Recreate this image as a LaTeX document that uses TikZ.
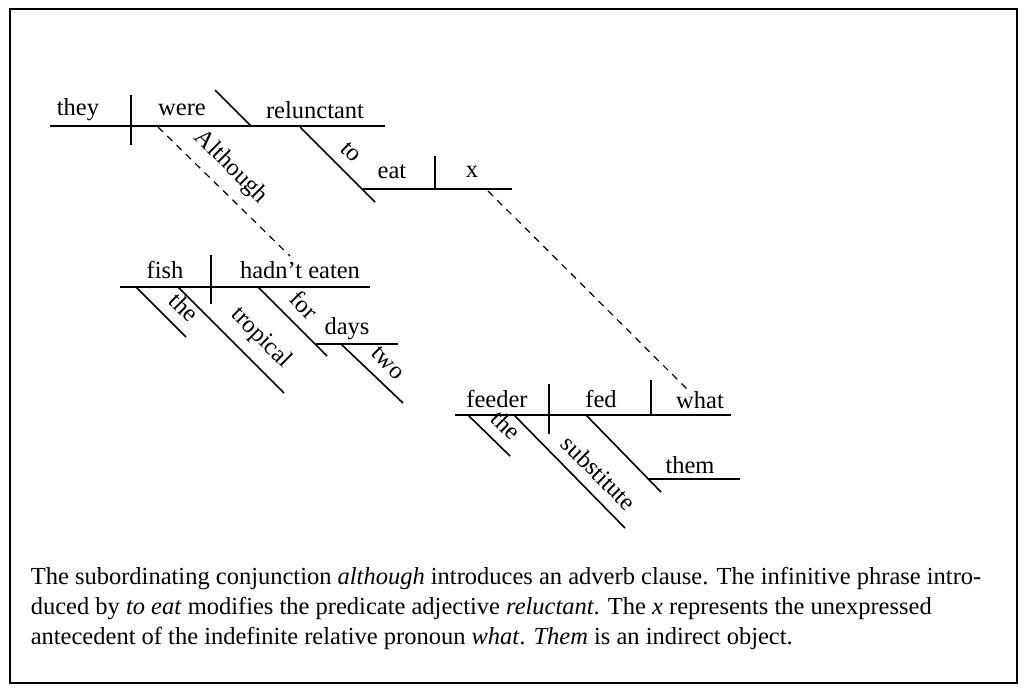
\documentclass[tikz,border=0pt]{standalone}
\usepackage{fontspec}
\setmainfont{Liberation Serif}
\begin{document}
\begin{tikzpicture}[x=1pt,y=-1pt,line width=1.6pt,
  w/.style={font=\fontsize{24.5}{26}\selectfont,inner sep=0pt},
  sl/.style={w,rotate=-45,anchor=south,inner sep=2pt},
  captxt/.style={font=\fontsize{24.5}{26}\selectfont,inner sep=0pt,anchor=base west},
  dl/.style={dashed,line width=1.2pt,dash pattern=on 7pt off 6pt}]
\useasboundingbox (0,0) rectangle (1027,694);
\draw[line width=1.3pt] (10,9) rectangle (1017,683);
% main clause
\draw (50,126) -- (385,126);
\draw (131,95) -- (131,145);
\draw (215,90) -- (251,126);
\node[w] (they) at (78,110) {they};
\node[w] (were) at (182,110) {were};
\node[w] (rel) at (315,110) {relunctant};
\coordinate (toA) at (300,127); \coordinate (toB) at (375,202);
\draw (toA) -- (toB);
\node[sl] at (344,159) {to};
\draw (363,189) -- (512,189);
\draw (435,156) -- (435,189);
\node[w] (eat) at (392,172) {eat};
\node[w] (x) at (472,172) {x};
% although
\coordinate (alA) at (158,127); \coordinate (alB) at (290,256);
\draw[dl] (alA) -- (alB);
\node[sl] at (221,177) {Although};
% fish clause
\draw (120,287) -- (370,287);
\draw (211,255) -- (211,304);
\node[w] (fish) at (165,270) {fish};
\node[w] (he) at (300,270) {hadn’t eaten};
\draw (136,287) -- (186,337); \node[sl] at (176,315) {the};
\draw (178,287) -- (284,393); \node[sl] at (251,348) {tropical};
\draw (258,287) -- (327,356); \node[sl] at (296,313) {for};
\draw (316,344) -- (398,344);
\node[w] (days) at (347,329) {days};
\draw (341,344) -- (403,403); \node[sl] at (381,370) {two};
% what clause
\coordinate (xA) at (488,191); \coordinate (xB) at (690,392);
\draw[dl] (xA) -- (xB);
\draw (455,415) -- (731,415);
\draw (549,384) -- (549,434);
\draw (651,380) -- (651,415);
\node[w] (feeder) at (497,399) {feeder};
\node[w] (fed) at (601,399) {fed};
\node[w] (what) at (700,400) {what};
\draw (468,415) -- (510,456); \node[sl] at (498,433) {the};
\draw (514,415) -- (625,528); \node[sl] at (591,481) {substitute};
\draw (586,415) -- (661,492);
\draw (648,479) -- (740,479);
\node[w] (them) at (690,465) {them};
% caption
\node[captxt] at (30,584) {The subordinating conjunction \textit{although} introduces an adverb clause. The infinitive phrase intro-};
\node[captxt] at (30,614) {duced by \textit{to eat} modifies the predicate adjective \textit{reluctant}. The \textit{x} represents the unexpressed};
\node[captxt] at (30,644) {antecedent of the indefinite relative pronoun \textit{what}. \textit{Them} is an indirect object.};
\end{tikzpicture}
\end{document}
